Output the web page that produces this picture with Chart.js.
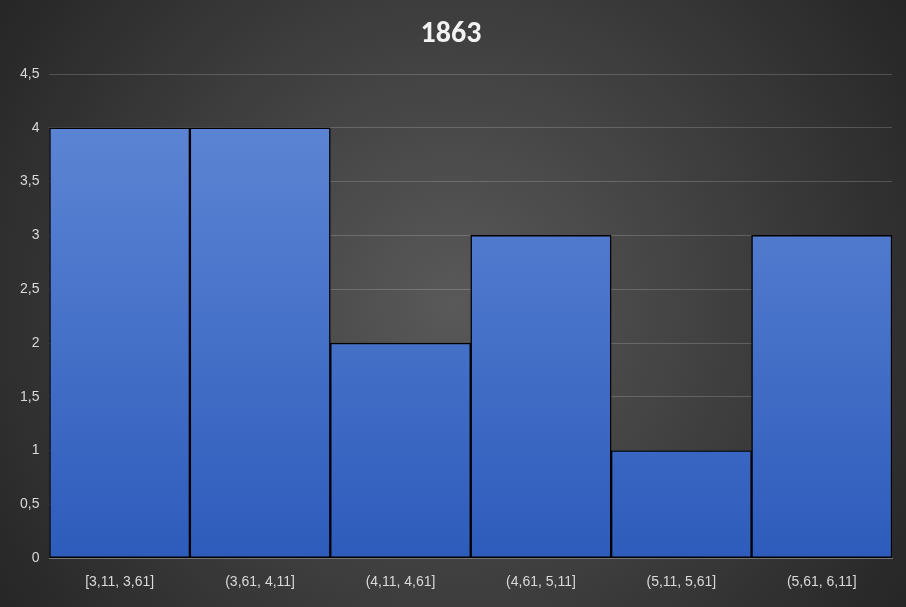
<!DOCTYPE html>
<html><head><meta charset="utf-8">
<script src="https://cdn.jsdelivr.net/npm/chart.js@4/dist/chart.umd.min.js"></script>
<style>html,body{margin:0;padding:0;background:#333}#w{width:906px;height:607px}</style>
</head><body><div id="w"><canvas id="c"></canvas></div>
<script>
const categories=["[3,11, 3,61]","(3,61, 4,11]","(4,11, 4,61]","(4,61, 5,11]","(5,11, 5,61]","(5,61, 6,11]"];
const counts=[4,4,2,3,1,3];
const title="1863";
const bg={id:'bg',beforeDraw(c){const x=c.ctx,w=c.width,h=c.height;const g=x.createRadialGradient(w/2,h/2,0,w/2,h/2,w*0.6);g.addColorStop(0,'#595959');g.addColorStop(1,'#262626');x.save();x.fillStyle=g;x.fillRect(0,0,w,h);x.restore();}};
new Chart(document.getElementById('c'),{type:'bar',plugins:[bg],
data:{labels:categories,datasets:[{data:counts,categoryPercentage:1,barPercentage:1,borderColor:'#000',borderWidth:1.5,borderSkipped:false,
backgroundColor:(ctx)=>{const a=ctx.chart.chartArea;if(!a)return '#4472c4';const g=ctx.chart.ctx.createLinearGradient(0,a.top,0,a.bottom);g.addColorStop(0,'#6189d6');g.addColorStop(1,'#2e5cbc');return g;}}]},
options:{responsive:true,maintainAspectRatio:false,animation:false,
layout:{padding:{left:10,right:14,top:4,bottom:8}},
plugins:{legend:{display:false},tooltip:{enabled:false},title:{display:true,text:title,color:'#f2f2f2',font:{family:'Calibri, Carlito, Liberation Sans',size:30,weight:'bold'},padding:{top:12,bottom:22}}},
scales:{x:{grid:{display:false},border:{color:'#777'},ticks:{color:'#d9d9d9',font:{family:'Liberation Sans',size:14},padding:8}},
y:{min:0,max:4.5,ticks:{stepSize:0.5,color:'#d9d9d9',font:{family:'Liberation Sans',size:14},padding:10,callback:v=>String(v).replace('.',',')},grid:{color:'rgba(255,255,255,0.18)',drawTicks:false},border:{display:false}}}}});
</script></body></html>
